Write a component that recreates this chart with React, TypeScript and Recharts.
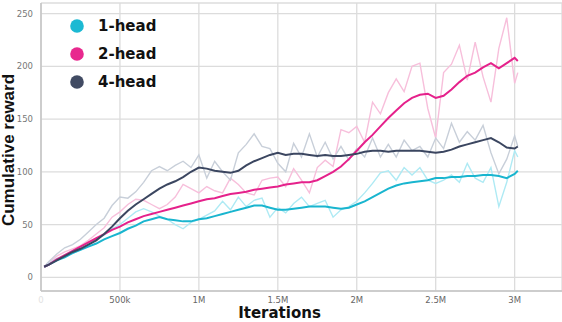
import React from 'react';
import { LineChart, Line, XAxis, YAxis, CartesianGrid, Legend, Label } from 'recharts';

// iterations in millions
const iterations = [
  0.02, 0.05, 0.1, 0.15, 0.2, 0.25, 0.3, 0.35, 0.4, 0.45,
  0.5, 0.55, 0.6, 0.65, 0.7, 0.75, 0.8, 0.85, 0.9, 0.95,
  1.0, 1.05, 1.1, 1.15, 1.2, 1.25, 1.3, 1.35, 1.4, 1.45,
  1.5, 1.55, 1.6, 1.65, 1.7, 1.75, 1.8, 1.85, 1.9, 1.95,
  2.0, 2.05, 2.1, 2.15, 2.2, 2.25, 2.3, 2.35, 2.4, 2.45,
  2.5, 2.55, 2.6, 2.65, 2.7, 2.75, 2.8, 2.85, 2.9, 2.95,
  3.0, 3.02,
];

const head1Smooth = [
  10, 12, 16, 19, 23, 26, 29, 32, 36, 39,
  42, 46, 49, 53, 55, 57, 55, 54, 53, 53,
  55, 56, 58, 60, 62, 64, 66, 68, 68, 66,
  64, 64, 65, 66, 67, 67, 67, 66, 65, 66,
  69, 72, 76, 80, 84, 87, 89, 90, 91, 92,
  94, 94, 95, 95, 96, 96, 97, 97, 96, 94,
  98, 101,
];
const head1Raw = [
  10, 13, 18, 20, 23, 26, 30, 36, 40, 46,
  50, 56, 62, 65, 62, 58, 55, 50, 46, 52,
  55, 59, 63, 72, 64, 76, 67, 73, 75, 57,
  66, 61, 70, 76, 67, 70, 73, 57, 64, 67,
  72, 80, 89, 99, 101, 92, 104, 97, 104, 92,
  89, 92, 97, 90, 108, 94, 90, 104, 67, 90,
  120, 114,
];
const head2Smooth = [
  10, 12, 17, 21, 25, 29, 33, 37, 41, 45,
  48, 52, 55, 58, 60, 62, 64, 66, 68, 70,
  72, 74, 75, 77, 79, 80, 81, 83, 84, 85,
  86, 88, 89, 90, 90, 92, 96, 100, 105, 112,
  120, 128, 135, 143, 151, 158, 165, 170, 173, 174,
  170, 172, 178, 185, 191, 194, 199, 203, 198, 203,
  208, 205,
];
const head2Raw = [
  10, 14, 20, 24, 27, 30, 35, 41, 47, 57,
  62, 69, 74, 73, 69, 65, 69, 76, 88, 84,
  80, 86, 82, 80, 94, 88, 80, 78, 92, 94,
  95, 86, 103, 92, 80, 104, 111, 105, 140, 137,
  143, 128, 166, 155, 175, 188, 176, 200, 203, 160,
  132, 194, 202, 220, 187, 223, 190, 166, 217, 246,
  184, 194,
];
const head4Smooth = [
  10, 12, 16, 20, 24, 27, 31, 35, 41, 48,
  56, 63, 69, 74, 79, 84, 88, 91, 95, 100,
  104, 103, 101, 100, 99, 101, 106, 110, 113, 116,
  118, 116, 117, 117, 116, 115, 116, 115, 115, 116,
  117, 119, 120, 120, 119, 120, 120, 120, 120, 119,
  118, 119, 121, 124, 126, 128, 130, 132, 128, 123,
  122, 124,
];
const head4Raw = [
  10, 15, 22, 28, 31, 36, 43, 50, 56, 68,
  76, 75, 81, 90, 101, 105, 101, 106, 110, 104,
  116, 94, 110, 100, 92, 118, 126, 136, 124, 122,
  108, 100, 127, 114, 136, 114, 128, 112, 124, 111,
  122, 114, 132, 114, 126, 114, 130, 120, 124, 114,
  132, 122, 146, 128, 138, 130, 144, 118, 98, 112,
  134, 124,
];

const xTicks = [0, 0.5, 1, 1.5, 2, 2.5, 3];
const xTickLabels = ['0', '500k', '1M', '1.5M', '2M', '2.5M', '3M'];
const yTicks = [0, 50, 100, 150, 200, 250];

const seriesNames = ['1-head', '2-head', '4-head'];
const seriesColors = ['#19b5cf', '#e5218b', '#3b4660'];
const rawColors = ['#aeeaf4', '#f7bfdb', '#c8cfd9'];
const legendColors = ['#1cb9d3', '#e8288e', '#414b63'];

const data = iterations.map((x, i) => ({
  x,
  h1s: head1Smooth[i],
  h1r: head1Raw[i],
  h2s: head2Smooth[i],
  h2r: head2Raw[i],
  h4s: head4Smooth[i],
  h4r: head4Raw[i],
}));

const XTick = (props: any) => {
  const { x, y, payload } = props;
  const idx = xTicks.indexOf(payload.value);
  return (
    <text
      x={x}
      y={y}
      dy={6.5}
      textAnchor="middle"
      fontSize={8.5}
      fontFamily="DejaVu Sans"
      fill={payload.value === 0 ? '#e2e2e2' : '#666666'}
    >
      {idx >= 0 ? xTickLabels[idx] : ''}
    </text>
  );
};

const renderLegend = () => (
  <div style={{ display: 'flex', flexDirection: 'column' }}>
    {seriesNames.map((name, i) => (
      <div key={name} style={{ display: 'flex', alignItems: 'center', height: 28 }}>
        <svg width={14} height={14} style={{ marginRight: 14 }}>
          <circle cx={7} cy={7} r={6.8} fill={legendColors[i]} />
        </svg>
        <span
          style={{
            fontFamily: 'DejaVu Sans',
            fontWeight: 'bold',
            fontSize: 15,
            color: '#111',
            lineHeight: '28px',
          }}
        >
          {name}
        </span>
      </div>
    ))}
  </div>
);

export default function App() {
  return (
    <div style={{ position: 'absolute', left: 0, top: 0, width: 562, height: 322, background: '#fff' }}>
      <LineChart
        width={562}
        height={322}
        data={data}
        margin={{ top: 3, right: 0, bottom: 0, left: 0 }}
        style={{ fontFamily: 'DejaVu Sans' }}
      >
        <CartesianGrid stroke="#dcdcdc" strokeWidth={1.3} />
        <XAxis
          dataKey="x"
          type="number"
          domain={[0, 3.3]}
          ticks={xTicks}
          allowDataOverflow
          height={31}
          tickLine={false}
          tickSize={5}
          tickMargin={0}
          axisLine={{ stroke: '#c4c4c4', strokeWidth: 1.5 }}
          tick={<XTick />}
          interval={0}
        >
          <Label
            content={(p: any) => {
              const vb = p.viewBox || { x: 41, y: 291, width: 521, height: 31 };
              return (
                <text
                  x={vb.x + vb.width / 2 - 22}
                  y={vb.y + vb.height - 4}
                  textAnchor="middle"
                  fontFamily="DejaVu Sans"
                  fontWeight="bold"
                  fontSize={15}
                  fill="#111"
                >
                  Iterations
                </text>
              );
            }}
          />
        </XAxis>
        <YAxis
          type="number"
          domain={[-13, 260]}
          ticks={yTicks}
          allowDataOverflow
          width={41}
          tickLine={false}
          tickSize={6}
          tickMargin={2}
          axisLine={{ stroke: '#c4c4c4', strokeWidth: 1.5 }}
          tick={{ fontSize: 8.5, fill: '#777777', fontFamily: 'DejaVu Sans' }}
          interval={0}
        >
          <Label
            content={(p: any) => {
              const vb = p.viewBox || { x: 0, y: 3, width: 41, height: 288 };
              const cx = vb.x + 14;
              const cy = vb.y + vb.height / 2 + 3;
              return (
                <text
                  x={cx}
                  y={cy}
                  transform={`rotate(-90, ${cx}, ${cy})`}
                  textAnchor="middle"
                  fontFamily="Liberation Sans"
                  fontWeight="bold"
                  fontSize={17}
                  fill="#111"
                >
                  Cumulative reward
                </text>
              );
            }}
          />
        </YAxis>
        <Legend
          layout="horizontal"
          verticalAlign="middle"
          align="center"
          wrapperStyle={{ left: 70, top: 12, width: 120, height: 84 }}
          content={renderLegend}
        />
        <Line dataKey="h2r" stroke={rawColors[1]} strokeWidth={1.4} dot={false} isAnimationActive={false} type="linear" />
        <Line dataKey="h4r" stroke={rawColors[2]} strokeWidth={1.4} dot={false} isAnimationActive={false} type="linear" />
        <Line dataKey="h1r" stroke={rawColors[0]} strokeWidth={1.4} dot={false} isAnimationActive={false} type="linear" />
        <Line dataKey="h1s" stroke={seriesColors[0]} strokeWidth={2} dot={false} isAnimationActive={false} type="linear" />
        <Line dataKey="h2s" stroke={seriesColors[1]} strokeWidth={2} dot={false} isAnimationActive={false} type="linear" />
        <Line dataKey="h4s" stroke={seriesColors[2]} strokeWidth={2} dot={false} isAnimationActive={false} type="linear" />
      </LineChart>
    </div>
  );
}
